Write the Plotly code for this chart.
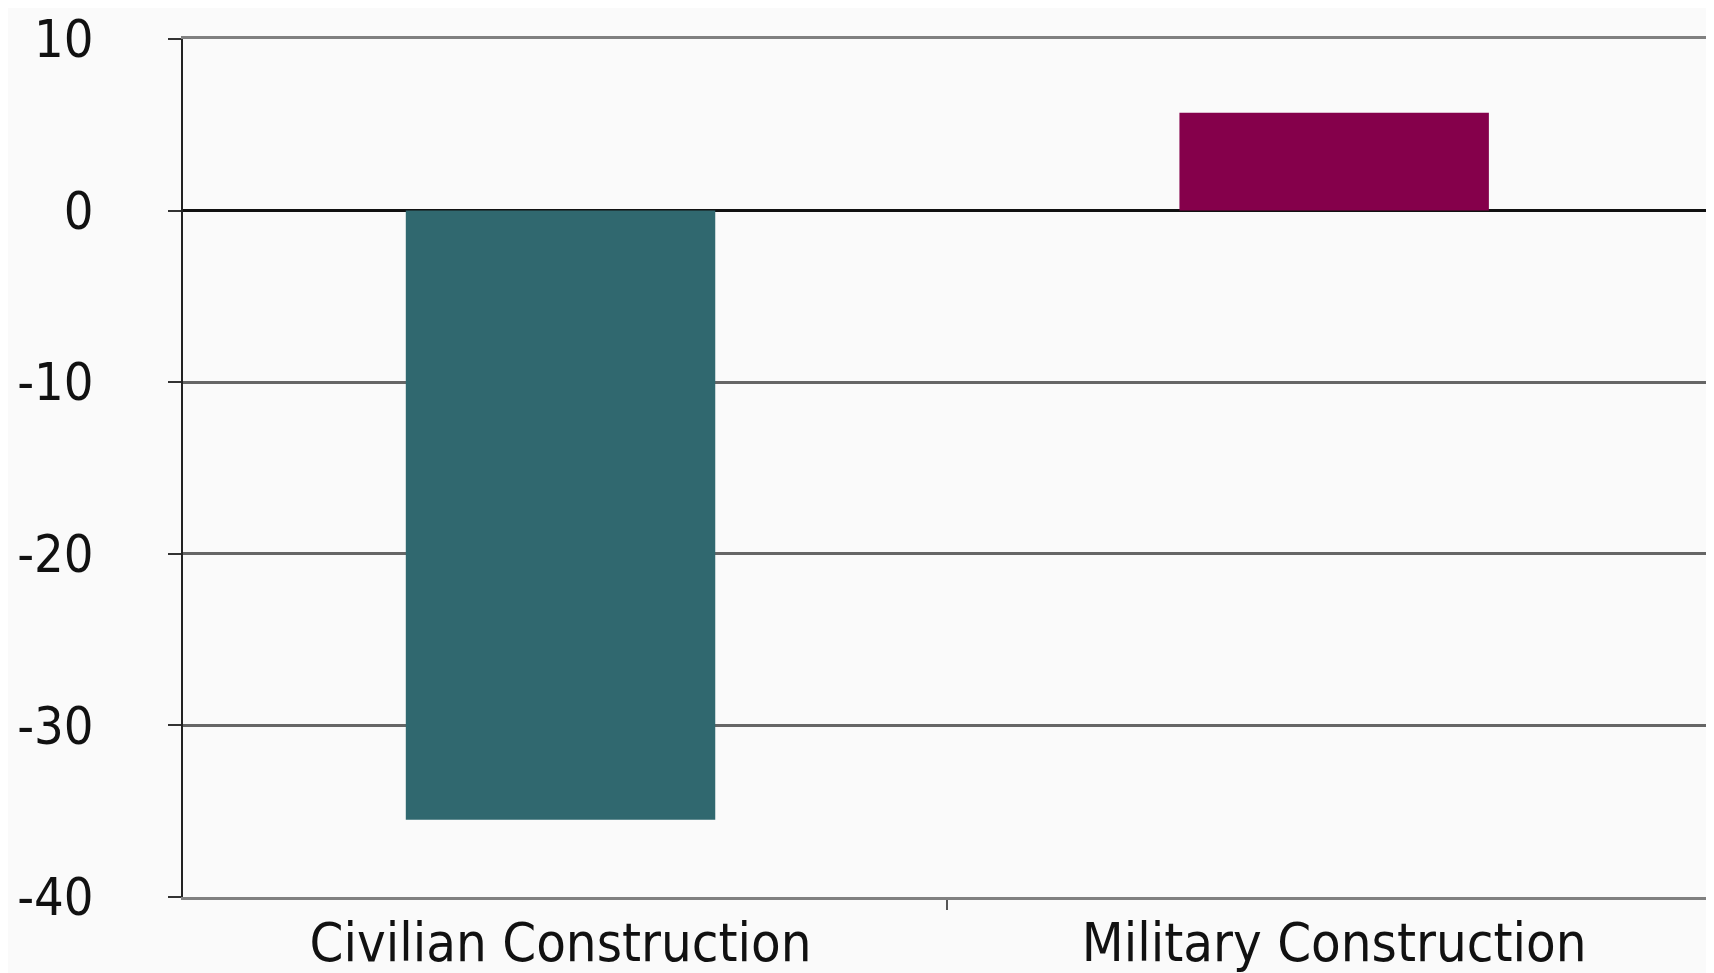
import plotly.graph_objects as go

categories = ["Civilian Construction", "Military Construction"]
values = [-35.5, 5.7]
colors = ["#30686F", "#85004B"]
y_ticks = [10, 0, -10, -20, -30, -40]

FONT = "Liberation Sans Narrow, Arial Narrow, DejaVu Sans Condensed, sans-serif"

fig = go.Figure()
fig.add_trace(go.Bar(
    x=categories, y=values,
    marker=dict(color=colors, line=dict(width=0)),
    width=0.40,
    showlegend=False,
))

fig.update_layout(
    width=1714, height=973,
    margin=dict(l=175, r=8, t=31, b=84),
    paper_bgcolor="#fafafa",
    plot_bgcolor="#fafafa",
    font=dict(family=FONT, color="#111111"),
)
fig.update_yaxes(
    range=[-40, 10],
    automargin=False,
    tickvals=y_ticks,
    ticktext=[str(v) for v in y_ticks],
    tickfont=dict(size=52, family=FONT, color="#111111"),
    ticks="outside", ticklen=13, tickwidth=2, tickcolor="#333333",
    ticklabelstandoff=64,
    ticklabeloverflow="allow",
    showgrid=True, gridcolor="#666666", gridwidth=2.5,
    zeroline=True, zerolinecolor="#111111", zerolinewidth=3,
    showline=True, linecolor="#222222", linewidth=2,
)
fig.update_xaxes(
    range=[-0.488, 1.491],
    automargin=False,
    tickson="boundaries",
    ticks="outside", ticklen=10, tickwidth=2, tickcolor="#555555",
    tickfont=dict(size=54, family=FONT, color="#111111"),
    ticklabelstandoff=-4,
    ticklabeloverflow="allow",
    showline=True, linecolor="#808080", linewidth=3, mirror=True,
    showgrid=False,
)

fig.write_html("out.html")
